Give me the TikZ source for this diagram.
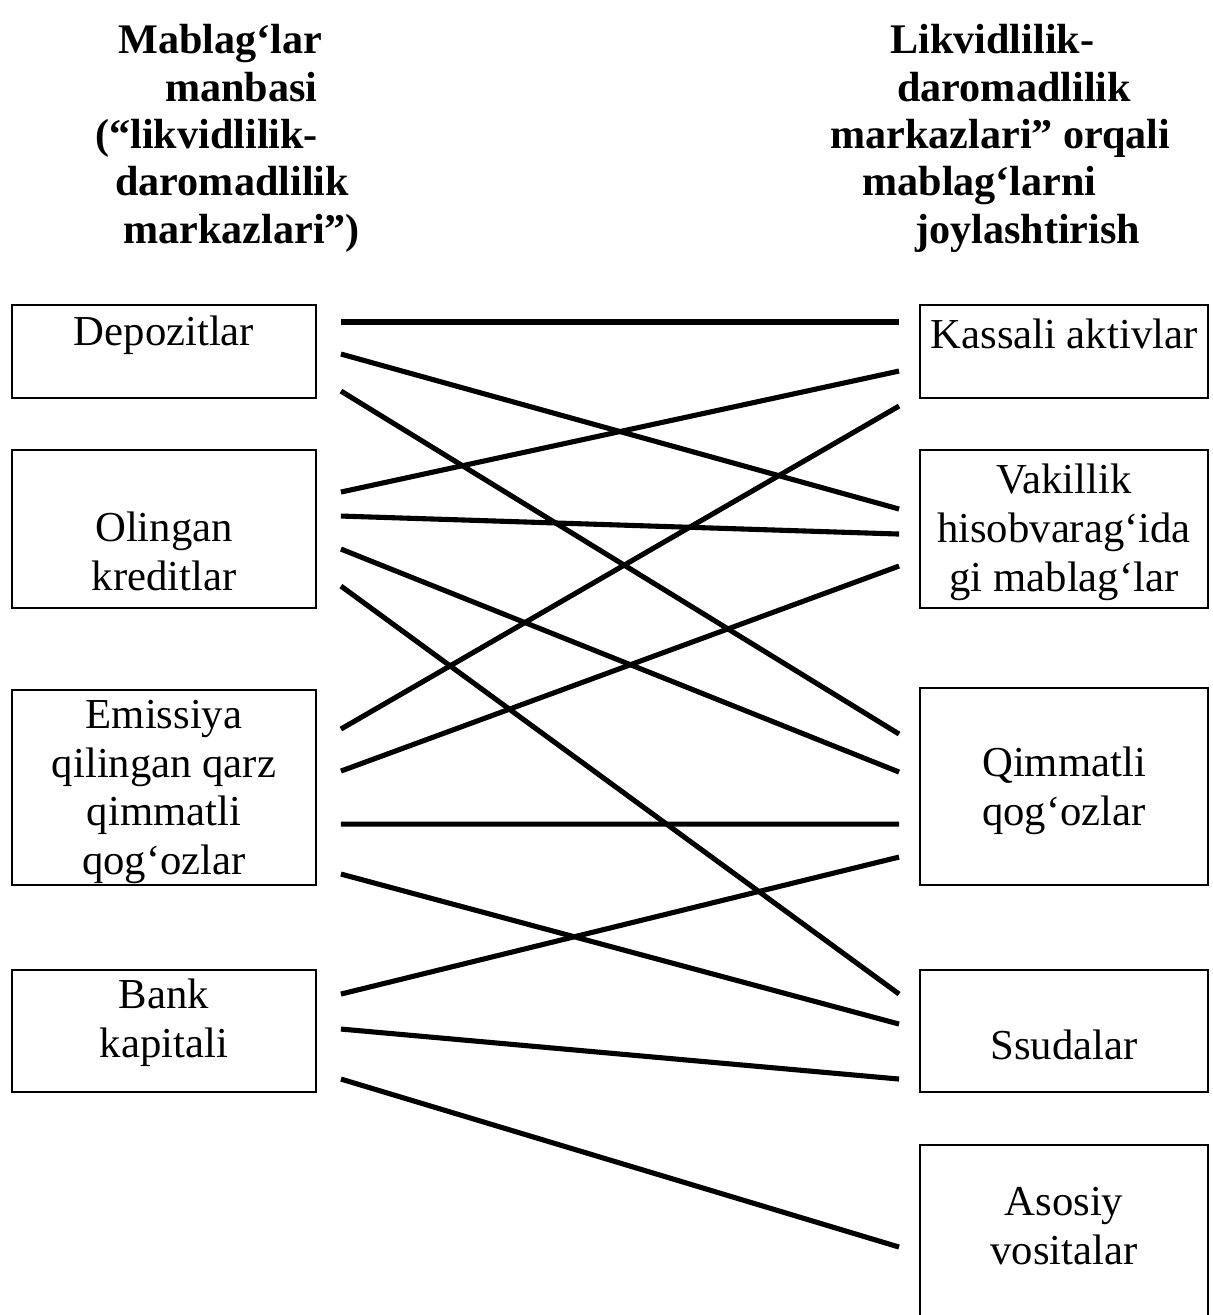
\documentclass[tikz,border=0pt]{standalone}
\usepackage{fontspec}
\setmainfont{Liberation Serif}
\usepackage{tikz}

\begin{document}
\begin{tikzpicture}[
    x=0.02cm,
    y=-0.02cm,
    box/.style={draw, line width=1.1pt, minimum width=6.08cm},
    rbox/.style={draw, line width=1.1pt, minimum width=5.76cm},
    txt/.style={align=center, inner sep=0pt, font=\fontsize{24.3}{27.8}\selectfont},
    head/.style={align=left, anchor=north west, inner sep=0pt, font=\fontsize{24}{27}\selectfont\bfseries},
    link/.style={line width=2.9pt},
  ]
  \useasboundingbox (0,0) rectangle (1213,1315);

  \node[head] (srchead) at (95,24) {\hspace*{0.46cm}Mablag‘lar\\ \hspace*{1.4cm}manbasi\\ (“likvidlilik-\\ \hspace*{0.4cm}daromadlilik\\ \hspace*{0.56cm}markazlari”)};
  \node[head] (usehead) at (830,24) {\hspace*{1.2cm}Likvidlilik-\\ \hspace*{1.34cm}daromadlilik\\ markazlari” orqali\\ \hspace*{0.64cm}mablag‘larni\\ \hspace*{1.7cm}joylashtirish};

  % manbalar
  \node[box, minimum height=1.86cm] (dep) at (164,351.5) {};
  \node[box, minimum height=3.16cm] (ol) at (164,529) {};
  \node[box, minimum height=3.9cm] (em) at (164,787.5) {};
  \node[box, minimum height=2.44cm] (bank) at (164,1031) {};
  \node[txt] (dep-t) at (164,335) {Depozitlar};
  \node[txt] (ol-t) at (164,551) {Olingan\\kreditlar};
  \node[txt] (em-t) at (164,792) {Emissiya\\qilingan qarz\\qimmatli\\qog‘ozlar};
  \node[txt] (bank-t) at (164,1023) {Bank\\kapitali};

  % joylashtirish
  \node[rbox, minimum height=1.86cm] (kas) at (1064,351.5) {};
  \node[rbox, minimum height=3.16cm] (vak) at (1064,529) {};
  \node[rbox, minimum height=3.94cm] (qim) at (1064,786.5) {};
  \node[rbox, minimum height=2.44cm] (ssu) at (1064,1031) {};
  \node[rbox, minimum height=3.7cm] (aso) at (1064,1237.5) {};
  \node[txt] (kas-t) at (1064,334) {Kassali aktivlar};
  \node[txt] (vak-t) at (1064,532) {Vakillik\\hisobvarag‘ida\\gi mablag‘lar};
  \node[txt] (qim-t) at (1064,791) {Qimmatli\\qog‘ozlar};
  \node[txt] (ssu-t) at (1064,1045) {Ssudalar};
  \node[txt] (aso-t) at (1064,1226) {Asosiy\\vositalar};

  \foreach \a/\ya/\b/\yb in {dep/18/kas/18, dep/50/vak/60, dep/87/qim/47,
      ol/43/kas/67, ol/67/vak/85, ol/100/qim/85, ol/137/ssu/25,
      em/40/kas/102, em/82/vak/117, em/135/qim/137, em/185/ssu/55,
      bank/25/qim/170, bank/60/ssu/110, bank/110/aso/103} {
    \draw[link] ([shift={(24,\ya)}]\a.north east) -- ([shift={(-20,\yb)}]\b.north west);
  }
\end{tikzpicture}
\end{document}
